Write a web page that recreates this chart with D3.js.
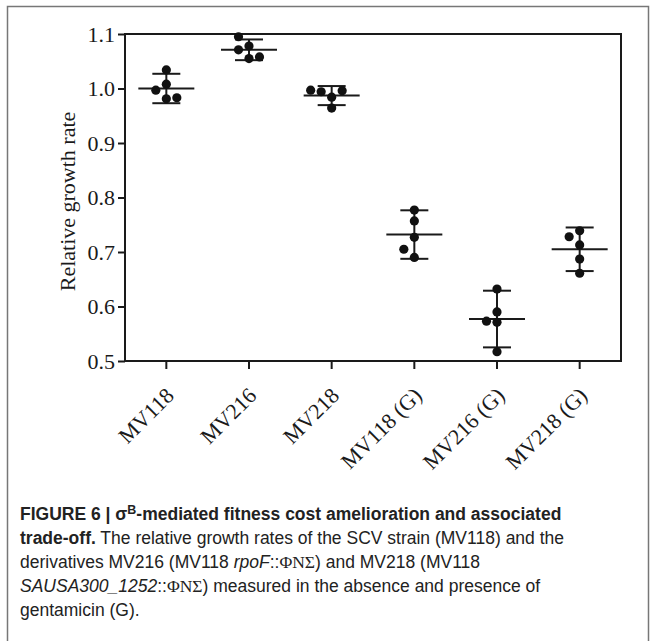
<!DOCTYPE html>
<html>
<head>
<meta charset="utf-8">
<script src="https://cdn.jsdelivr.net/npm/d3@7"></script>
<style>
  body { margin: 0; background: #fff; }
  svg { display: block; }
</style>
</head>
<body>
<svg id="chart" width="657" height="641"></svg>
<script>
// strains on the x axis
const strains = ['MV118', 'MV216', 'MV218', 'MV118 (G)', 'MV216 (G)', 'MV218 (G)']

// replicate growth rates
const mv118 = [1.034, 1.008, 0.997, 0.981, 0.983]
const mv216 = [1.078, 1.055, 1.071, 1.095, 1.058]
const mv218 = [0.984, 0.964, 0.994, 0.996, 0.997]
const mv118G = [0.727, 0.777, 0.757, 0.690, 0.705]
const mv216G = [0.571, 0.632, 0.590, 0.517, 0.573]
const mv218G = [0.713, 0.739, 0.687, 0.661, 0.728]

// mean and SD bars as drawn
const means = [1.000, 1.071, 0.987, 0.732, 0.577, 0.705]
const sds = [0.027, 0.019, 0.0175, 0.0445, 0.052, 0.040]

const yTicks = [0.5, 0.6, 0.7, 0.8, 0.9, 1.0, 1.1]

const replicates = [mv118, mv216, mv218, mv118G, mv216G, mv218G]

//graph size
const margin = { top: 34, bottom: 280, left: 125, right: 36 }
const W = 657, H = 641
const svg = d3.select('#chart')

//figure frame
svg.append('rect')
  .attr('x', 7.5).attr('y', 6.5)
  .attr('width', 641).attr('height', 660)
  .attr('fill', 'none')
  .attr('stroke', '#777')
  .attr('stroke-width', 1.5)

//scales
const x = d3.scaleBand().domain(strains).range([margin.left, W - margin.right])
const y = d3.scaleLinear().domain([0.5, 1.1]).range([H - margin.bottom, margin.top])

const serif = '"Liberation Serif", "Times New Roman", serif'
const ink = '#1a1a1a'

//axes
const yAxis = d3.axisLeft(y).tickValues(yTicks).tickFormat(d3.format('.1f')).tickSize(7).tickPadding(3)
const yG = svg.append('g').attr('transform', `translate(${margin.left},0)`).call(yAxis)
const xAxis = d3.axisBottom(x).tickSize(8).tickFormat('')
const xG = svg.append('g').attr('transform', `translate(0,${H - margin.bottom})`).call(xAxis)

;[yG, xG].forEach(g => {
  g.select('.domain').remove()
  g.selectAll('line').attr('stroke', ink).attr('stroke-width', 2)
  g.selectAll('text').attr('fill', ink).style('font-family', serif).style('font-size', '22px')
})

//frame round the plot
svg.append('rect')
  .attr('x', margin.left).attr('y', margin.top)
  .attr('width', W - margin.right - margin.left)
  .attr('height', H - margin.bottom - margin.top)
  .attr('fill', 'none')
  .attr('stroke', ink)
  .attr('stroke-width', 2)

//rotated strain labels
svg.append('g').selectAll('text')
  .data(strains)
  .enter().append('text')
  .attr('transform', d => `translate(${x(d) + x.bandwidth() / 2 - 2},${H - margin.bottom + 25}) rotate(-45)`)
  .attr('text-anchor', 'end')
  .attr('dy', '0.7em')
  .style('font-family', serif)
  .style('font-size', '22px')
  .attr('fill', ink)
  .text(d => d)

//y title
svg.append('text')
  .attr('transform', `translate(75,${(margin.top + H - margin.bottom) / 2 + 4}) rotate(-90)`)
  .attr('text-anchor', 'middle')
  .style('font-family', serif)
  .style('font-size', '22px')
  .attr('fill', ink)
  .text('Relative growth rate')

//mean and sd bars
const bars = svg.append('g')
strains.forEach((s, i) => {
  const cx = x(s) + x.bandwidth() / 2
  const lo = y(means[i] - sds[i]), hi = y(means[i] + sds[i])
  const segs = [
    [cx, hi, cx, lo],
    [cx - 14, hi, cx + 14, hi],
    [cx - 14, lo, cx + 14, lo],
    [cx - 28, y(means[i]), cx + 28, y(means[i])]
  ]
  bars.selectAll(null).data(segs).enter().append('line')
    .attr('x1', d => d[0]).attr('y1', d => d[1])
    .attr('x2', d => d[2]).attr('y2', d => d[3])
    .attr('stroke', ink).attr('stroke-width', 2)
})

//scatter dots, spread sideways when they would overlap
const r = 4.6, step = 10.5, minDist = 10
const dots = svg.append('g')
strains.forEach((s, i) => {
  const cx = x(s) + x.bandwidth() / 2
  const placed = []
  replicates[i].forEach(v => {
    const py = y(v)
    const tries = [0, -1, 1, -2, 2, -3, 3]
    let px = cx
    for (const t of tries) {
      const tx = cx + t * step
      if (placed.every(p => Math.hypot(p[0] - tx, p[1] - py) >= minDist)) { px = tx; break }
    }
    placed.push([px, py])
  })
  dots.selectAll(null).data(placed).enter().append('circle')
    .attr('cx', d => d[0]).attr('cy', d => d[1]).attr('r', r)
    .attr('fill', '#111')
})

//caption
const sans = '"Liberation Sans", Arial, sans-serif'
const cap = svg.append('g').style('font-family', sans).style('font-size', '17.5px').attr('fill', '#222')
const lines = [
  [{ t: 'FIGURE 6 | \u03c3', b: 1 }, { t: 'B', b: 1, sup: 1 }, { t: '-mediated fitness cost amelioration and associated', b: 1, down: 1 }],
  [{ t: 'trade-off.', b: 1 }, { t: ' The relative growth rates of the SCV strain (MV118) and the' }],
  [{ t: 'derivatives MV216 (MV118 ' }, { t: 'rpoF', i: 1 }, { t: '::' }, { t: '\u03a6N\u03a3', s: 1 }, { t: ') and MV218 (MV118' }],
  [{ t: 'SAUSA300_1252', i: 1 }, { t: '::' }, { t: '\u03a6N\u03a3', s: 1 }, { t: ') measured in the absence and presence of' }],
  [{ t: 'gentamicin (G).' }]
]
lines.forEach((parts, k) => {
  const txt = cap.append('text').attr('x', 20).attr('y', 520 + k * 24)
  parts.forEach(p => {
    const ts = txt.append('tspan').text(p.t)
    if (p.b) ts.style('font-weight', 'bold')
    if (p.i) ts.style('font-style', 'italic')
    if (p.s) ts.style('font-family', serif)
    if (p.sup) ts.attr('dy', '-0.45em').style('font-size', '12.5px')
    if (p.down) ts.attr('dy', '0.32em')
  })
})
</script>
</body>
</html>
